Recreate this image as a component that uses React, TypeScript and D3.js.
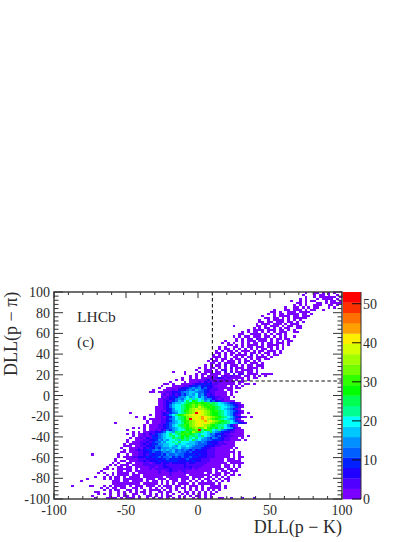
import React from "react";
import * as d3 from "d3";

// Each row: lowest DLL(p-K) bin that is drawn, then one character per bin (colour band of the count, "." = empty).
// Rows run from the top of the plot (bin 99) to the bottom (bin 0). Bins are 2 units wide.
const rowStarts = [
  87,86,87,85,82,84,83,80,76,75,74,72,73,71,71,70,62,69,67,65,
  64,62,63,59,58,60,57,57,56,56,55,55,54,53,54,52,50,49,41,45,
  47,44,42,40,38,37,36,34,33,37,37,36,36,36,36,35,35,35,26,33,
  28,31,32,21,31,27,25,27,25,27,26,25,25,24,24,23,24,23,13,22,
  21,21,20,19,18,17,16,15,18,14,11,9,20,6,16,17,14,15,13,14,
];
const rowBands = [
  "1..11.1.1.1...1","1...1.11.1..1.1","1..1.111111.1.1","1.1...1.1111.1.11","1..1.1.11...1.11.1",
  "11.1...11.1.1111","1.1.1..111..11.1","1..11.1.1.11...1.1","1...11.111.1.11..1","11.1..111.1111",
  "1.1.11.1111.11.1","1...1.1111.11.111","11.11.1.1.11111","1..1.1111.1.1.1","11.11.111.11.1.1",
  "1.111.111.1.111","1.......11.1.111.1.11.11","1.1.11.1.1.11..11","1.1111.111.11.1.1","1.1.11.1.1.1.111..11",
  "11..1111.1.1.11.1","1.1.11.111.11.1.1.1..1","1.1.11.2111.1.11.11","1...1.1.111.111.1.1.1.11","1.1.1..1.1.11.1.11.111.1",
  "11.1.1.1111.1.1111.1.1","1.1..11.1.11.111.11.1.1","1.11.1.1.1.1.1.11.1.1.1","1.1.11.1.111.1.11.111.1","11.1.11.1.1.11.1.11.1.1",
  "1.1.1.1.1111.2.1.1.1.11","111.1..11.1.11.1111.1","1.1.11.1.11.1.1.11.11","1.11.1.111.1.11.1.1","11.1.1111.2.1.111.1",
  "1.1.11.2.111.1.11.111","1.1.11.1.1.2.111.1111.1","1..111.1.22.1.1.1111.1","1...1....1.111.11.2.2.111.11.1","1...1.11.1111.11.2.22.1111.1111",
  "1.1.1.1111.1212111.11.1.1.1","1..1.1.111212321211111.1.11","1.1..111112312111211.1.1.1","1....1.1112132312211111.11","11.1..1111233434322111111.1.11.1",
  "1...1111223445343321111.1.1.1","1..11112334565645332211111.11","1...111213435657654322211.11","11.111223345667765543221111.1.1","12123235467685642321111.1",
  "212343566867857534322111.1","1122335657897987565321211","1123245768a8ba8967453421111","1123467789abcbcbca9a987654321","112357889abcdcdcbcba9887654321",
  "1112357889abcdcfdcbcba988765421","1112346889abdefeedcbba98765321","1121346789bcdefgfedcbca98765421","1........1123245689acdekgfedcbba98764321.1","1.11234689bcdefgfgfedcbba9876421",
  "1..1...112134689abdefgfhgfedcba98754321.1","1.11112235689abdkfgfhgedcba9876521","1.1112234678abcdefgfhfgedcba986421","1..........1.11122456789bcdefgfgfedcbaa9876432","1.11122345789acbdefgfedcba9986421",
  "1.1.1.111223456789abcdecdfcbab9a876421",
  "1.....1.1121325467889bacdk9bca87965432111","1.1.11223345876a9bcabecb987a76543322111","1.1.11213245678a89acbcba97887564432211111","1.112124356789a89bab9a97a87654533221111.1",
  "1.1121324456788a9ab9a98a87654654322111.1","1..1112233465768897a9a8a7866554443221111.1","1.1112232455768898a8887765654333221111","1.1111232344667788978877765554433222111","111.11223345567787687787655543332211111",
  "1..111213243546667678667655543322111111.1","1.11232344565767675656545343322211111.1","11.1112233454456567565545343332221111111.1","1........1..1.1122324344546556554444343322211111.1.1","1.1112233343445455645454454433322211111.1.11",
  "1...1111222333434454444345433322211111.111.1","1.11.111223233343344443334343322211111.11111","1.1..11.11122123323323333323322221111111.11111","1.1.111.1111222222232222223222222111111.11.1.1","1...11.11.111112212233222223232221111111.11.1.1",
  "11.1.11111.1.1112122222322222221211111.111.11.1","1.....11.11.111111112112322122111111111.1.11.111","1.1..1.1111.1.11111112111211112111111.11.11.11.1","1.1.1111.111.111111111211111.1111111.111.1.11.1","1..1.1.11.1.1111.1111111.11111111.1111.11.1.1.1",
  "1.....1.1.11.1111111.111.111.111.111.1.1.11.1.1.11","1..........111.11.1111.1.11.1.1.11.11.1.1.1.11.1.1.1","1111111111.11111.1.1.1.1111.1.111111.1","1.....11...1.1.1111.1.111.111.1.111.11.1.111.1..1111.1","1.1.11.11..11.1..1.1.1.11.1.11.1.1.1.11111.1",
  "1.1.11..11.1..1.1111.1.1.1..1.1.1.1.1.1.1","11...1..1.1.1.1.11.1..11.11..1.11.1.1.1.1.1","1.1.1..1.1..11..1.1.1.1.1.1..1.1.1.1.1.11","1.....1..1.11.1.1..11.1.1.11..1.1.1.11.1.1","1...1111.1.111.1..1.1.11.1.1.1.1..1.1.1.1..11..1...1...1",
];
const bandColors = [
  "#7a00ff","#5000ff","#2000ff","#0020ff","#0060ff","#0090ff","#00c8ff","#00ffff","#00ff90","#00ff50",
  "#00ff00","#30ff00","#70ff00","#a0ff00","#d4ff00","#ffee00","#ffa000","#ff7000","#ff3000","#ff0000",
];
const BAND_CODES = "123456789abcdefghijk";
const zMax = 53;
const xTicks = [-100,-50,0,50,100];
const xMinor = d3.range(-100,101,10);
const yTicks = [-100,-80,-60,-40,-20,0,20,40,60,80,100];
const yMinor = d3.range(-100,101,4);
const zTicks = [0,10,20,30,40,50];
const cutX = 10;
const cutY = 14;

const FONT = "'Liberation Serif', serif";
const INK = "#2b2b2b";

export default function App() {
  const x = d3.scaleLinear().domain([-100,100]).range([54,342]);
  const y = d3.scaleLinear().domain([-100,100]).range([499,292]);
  const z = d3.scaleLinear().domain([0,zMax]).range([499,292]);
  const colour = d3.scaleQuantize<string>().domain([0,zMax]).range(bandColors);
  const bandWidth = zMax / bandColors.length;
  const cells: {c:number;r:number;v:number}[] = [];
  rowBands.forEach((s,i)=>{
    const r = 99-i;
    for (let k=0;k<s.length;k++){
      const b = BAND_CODES.indexOf(s[k]);
      if (b>=0 && rowStarts[i]+k<100) cells.push({c:rowStarts[i]+k,r,v:(b+0.5)*bandWidth});
    }
  });
  const binX = (c:number)=>x(-100+2*c);
  const binY = (r:number)=>y(-100+2*r);
  return (
    <svg width={419} height={542} style={{position:"absolute",left:0,top:0,background:"#fff"}} fontFamily={FONT}>
      <g shapeRendering="crispEdges">
      {cells.map((d,i)=>(
        <rect key={i} x={binX(d.c)} y={binY(d.r+1)} width={binX(d.c+1)-binX(d.c)} height={binY(d.r)-binY(d.r+1)} fill={colour(d.v)} />
      ))}
      </g>
      <path d={`M${x(cutX)},${y(100)}V${y(cutY)}H${x(100)}`} fill="none" stroke="#111" strokeWidth={1.1} strokeDasharray="3.5,2.5" />
      {bandColors.map((col,i)=>(
        <rect key={col} x={343} y={z((i+1)*bandWidth)} width={18} height={z(i*bandWidth)-z((i+1)*bandWidth)+0.3} fill={col} />
      ))}
      <rect x={54} y={292} width={288} height={207} fill="none" stroke="#333" strokeWidth={1.4} />
      <path d="M361,292V499" stroke="#333" strokeWidth={1} fill="none" />
      {xMinor.map(t=>{
        const l = xTicks.includes(t)?6:3;
        return <path key={t} d={`M${x(t)},499v${-l}M${x(t)},292v${l}`} stroke="#333" strokeWidth={1} />;
      })}
      {yMinor.map(t=>{
        const l = yTicks.includes(t)?9:4.5;
        return <path key={t} d={`M54,${y(t)}h${l}M342,${y(t)}h${-l}`} stroke="#333" strokeWidth={1} />;
      })}
      {zTicks.map(t=>(
        <g key={t}>
          <path d={`M352,${z(t)}H361`} stroke="#111" strokeWidth={1} />
          <text x={363} y={z(t)+5} fontSize={14} fill={INK}>{t}</text>
        </g>
      ))}
      {xTicks.map(t=>(
        <text key={t} x={x(t)} y={515} fontSize={14} fill={INK} textAnchor="middle">{t}</text>
      ))}
      {yTicks.map(t=>(
        <text key={t} x={50} y={y(t)+5} fontSize={14} fill={INK} textAnchor="end">{t}</text>
      ))}
      <text x={342} y={533} fontSize={18} fill={INK} textAnchor="end">DLL(p − K)</text>
      <text transform="translate(17,376) rotate(-90)" fontSize={18} fill={INK}>DLL(p − π)</text>
      <text x={77} y={322} fontSize={15.5} fill={INK}>LHCb</text>
      <text x={77} y={347} fontSize={15.5} fill={INK}>(c)</text>
    </svg>
  );
}
